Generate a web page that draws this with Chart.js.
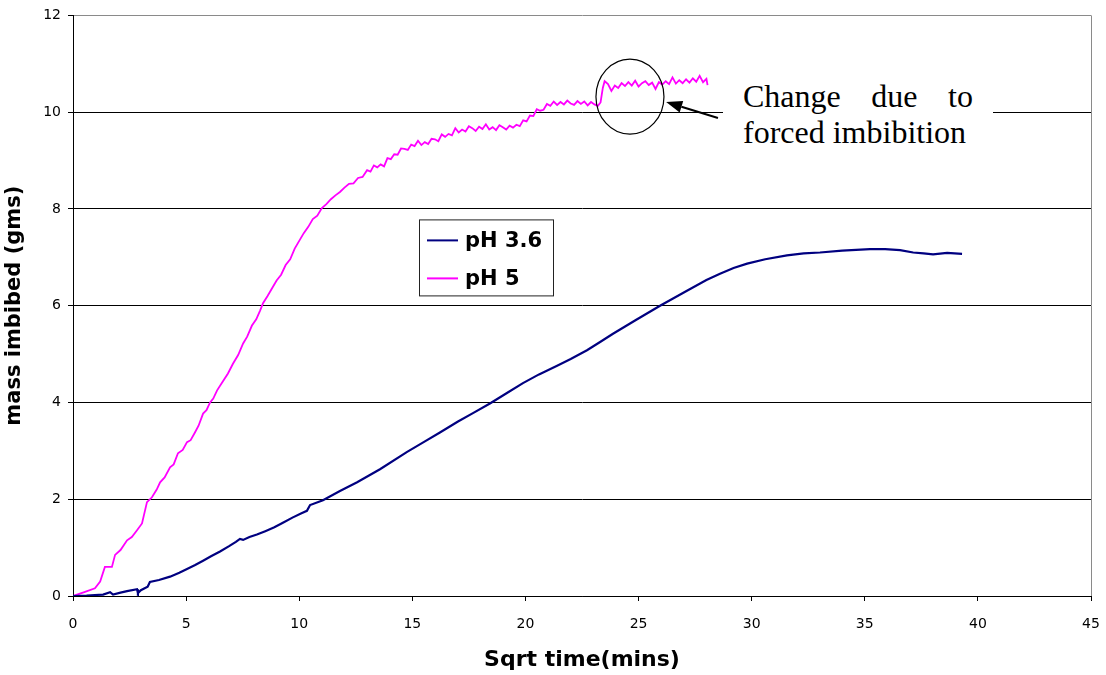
<!DOCTYPE html>
<html>
<head>
<meta charset="utf-8">
<script src="https://cdn.jsdelivr.net/npm/chart.js@4/dist/chart.umd.min.js"></script>
<style>
  html, body { margin: 0; padding: 0; background: #fff; }
  #wrap { position: relative; width: 1106px; height: 675px; }
  #note {
    position: absolute; left: 723px; top: 78px; width: 230px;
    padding: 0 20px; background: #fff;
    font-family: "Liberation Serif", "Times New Roman", serif;
    font-size: 32px; line-height: 36px; text-align: justify; color: #000;
  }
</style>
</head>
<body>
<div id="wrap">
  <canvas id="c" width="1106" height="675"></canvas>
  <div id="note">Change due to forced imbibition</div>
</div>
<script>
// ---- data ----
const seriesNames = ['pH 3.6', 'pH 5'];
const xTicks = [0, 5, 10, 15, 20, 25, 30, 35, 40, 45];
const yTicks = [0, 2, 4, 6, 8, 10, 12];
const xTitle = 'Sqrt time(mins)';
const yTitle = 'mass imbibed (gms)';

const ph36Points = [
  [0,0],[0.6,0.01],[1.33,0.03],[1.64,0.08],[1.77,0.03],[2.1,0.07],[2.39,0.1],[2.83,0.14],[2.87,0.06],
  [3.0,0.12],[3.3,0.19],[3.4,0.29],[3.8,0.33],[4.29,0.4],[4.7,0.48],[5.04,0.56],[5.4,0.64],[5.75,0.73],
  [6.1,0.82],[6.5,0.92],[6.9,1.03],[7.2,1.12],[7.38,1.18],[7.52,1.16],[7.8,1.22],[8.13,1.27],[8.5,1.34],
  [8.9,1.42],[9.3,1.52],[9.7,1.62],[10.1,1.71],[10.34,1.76],[10.48,1.88],[11.05,1.98],[11.8,2.17],
  [12.56,2.35],[13.57,2.62],[14.77,2.98],[15.5,3.18],[16.22,3.38],[17.0,3.6],[17.68,3.78],[18.43,3.98],
  [19.2,4.2],[19.89,4.4],[20.6,4.58],[21.4,4.76],[22.0,4.9],[22.72,5.08],[23.3,5.25],[23.87,5.42],
  [24.9,5.71],[25.95,6.0],[27.14,6.31],[28.0,6.53],[28.6,6.66],[29.2,6.78],[29.8,6.87],[30.6,6.96],
  [31.56,7.04],[32.3,7.08],[33.02,7.1],[34.0,7.14],[35.23,7.17],[35.9,7.17],[36.56,7.15],[37.14,7.1],
  [37.6,7.08],[38.02,7.06],[38.64,7.09],[39.3,7.07]
];

const ph5Points = [
  [0,0],[0.5,0.08],[0.97,0.16],[1.2,0.3],[1.41,0.6],[1.72,0.6],[1.86,0.85],[2.1,0.95],[2.39,1.15],
  [2.6,1.22],[2.83,1.36],[3.05,1.5],[3.27,1.94],[3.49,2.04],[3.7,2.2],[3.85,2.35],[4.05,2.45],[4.29,2.66],
  [4.45,2.72],[4.64,2.95],[4.85,3.02],[5.04,3.18],[5.2,3.22],[5.39,3.38],[5.55,3.52],[5.75,3.77],
  [5.9,3.84],[6.06,4.0],[6.2,4.08],[6.37,4.25],[6.6,4.42],[6.85,4.6],[7.07,4.8],[7.3,4.98],[7.52,5.22],
  [7.7,5.36],[7.91,5.59],[8.1,5.72],[8.27,5.9],
  [8.4,6.05],[8.6,6.20],[8.8,6.36],[9.0,6.52],[9.2,6.64],[9.4,6.84],[9.6,6.96],[9.8,7.18],[10.0,7.34],
  [10.2,7.50],[10.4,7.63],[10.6,7.79],[10.8,7.86],[11.0,8.02],[11.2,8.10],[11.4,8.20],[11.6,8.28],
  [11.8,8.35],[12.0,8.44],[12.2,8.52],[12.4,8.53],[12.6,8.64],[12.8,8.66],
  [13.0,8.80],[13.15,8.77],[13.3,8.90],[13.45,8.86],[13.6,8.92],[13.75,8.88],[13.9,9.05],[14.05,9.03],
  [14.2,9.13],[14.35,9.12],[14.5,9.25],[14.65,9.24],[14.8,9.22],[14.95,9.33],[15.1,9.30],[15.25,9.41],
  [15.4,9.32],[15.55,9.38],[15.7,9.34],[15.85,9.45],[16.0,9.44],[16.15,9.40],[16.3,9.54],[16.45,9.49],
  [16.6,9.55],[16.75,9.52],[16.9,9.67],[17.05,9.58],[17.2,9.64],[17.35,9.60],[17.5,9.71],[17.65,9.67],
  [17.8,9.61],[17.95,9.70],[18.1,9.65],[18.25,9.75],[18.4,9.64],[18.55,9.69],[18.7,9.63],[18.85,9.73],
  [19.0,9.69],[19.15,9.64],[19.3,9.72],[19.45,9.68],[19.6,9.74],[19.75,9.71],[19.9,9.83],[20.05,9.81],
  [20.2,9.93],[20.35,9.92],[20.5,10.06],[20.65,10.03],[20.8,10.05],[20.95,10.17],[21.1,10.13],
  [21.25,10.22],[21.4,10.15],[21.55,10.21],[21.7,10.16],[21.85,10.24],[22.0,10.18],[22.15,10.15],
  [22.3,10.23],[22.45,10.17],[22.6,10.22],[22.75,10.14],[22.9,10.21],[23.05,10.16],[23.2,10.13],
  [23.32,10.20],[23.42,10.50],[23.5,10.64],[23.65,10.58],[23.8,10.44],[23.95,10.55],[24.1,10.50],
  [24.25,10.60],[24.4,10.54],[24.55,10.62],[24.7,10.55],[24.85,10.65],[25.0,10.53],[25.15,10.60],
  [25.3,10.64],[25.45,10.56],[25.6,10.61],[25.75,10.48],[25.9,10.62],[26.05,10.57],[26.2,10.64],
  [26.35,10.58],[26.5,10.72],[26.65,10.59],[26.8,10.66],[26.95,10.60],[27.1,10.68],[27.25,10.61],
  [27.4,10.70],[27.55,10.63],[27.7,10.75],[27.85,10.62],[28.0,10.69],[28.05,10.56]
];

// annotation anchors in data units
const ringCenter = [24.62, 10.32];
const ringRadiiPx = [34, 37.5];
const arrowFrom = [28.51, 9.88];
const arrowTo = [26.22, 10.21];

const SANS = '"DejaVu Sans", "Liberation Sans", Arial, sans-serif';

const toXY = pts => pts.map(p => ({ x: p[0], y: p[1] }));

const frame = {
  id: 'frame',
  afterDatasetsDraw(chart) {
    const { ctx, chartArea: a } = chart;
    ctx.save();
    ctx.strokeStyle = '#8a8a8a';
    ctx.lineWidth = 1;
    ctx.beginPath();
    ctx.moveTo(Math.round(a.right) + 0.5, a.top);
    ctx.lineTo(Math.round(a.right) + 0.5, a.bottom);
    ctx.stroke();
    ctx.restore();
  }
};

const customLegend = {
  id: 'customLegend',
  afterDraw(chart) {
    const { ctx, chartArea: a } = chart;
    const left = a.left + 346, top = a.top + 204, w = 134, h = 76;
    ctx.save();
    ctx.fillStyle = '#fff';
    ctx.fillRect(left, top, w, h);
    ctx.strokeStyle = '#222';
    ctx.lineWidth = 1;
    ctx.strokeRect(left + 0.5, top + 0.5, w, h);
    ctx.font = 'bold 21px ' + SANS;
    ctx.textBaseline = 'middle';
    ctx.fillStyle = '#000';
    chart.data.datasets.forEach((ds, i) => {
      const cy = top + 21 + i * 38;
      ctx.strokeStyle = ds.borderColor;
      ctx.lineWidth = 2;
      ctx.beginPath();
      ctx.moveTo(left + 8, cy);
      ctx.lineTo(left + 39, cy);
      ctx.stroke();
      ctx.fillText(ds.label, left + 46, cy + 1);
    });
    ctx.restore();
  }
};

const annot = {
  id: 'annot',
  afterDraw(chart) {
    const { ctx } = chart;
    const xs = chart.scales.x, ys = chart.scales.y;
    const cx = xs.getPixelForValue(ringCenter[0]);
    const cy = ys.getPixelForValue(ringCenter[1]);
    ctx.save();
    ctx.strokeStyle = '#000';
    ctx.lineWidth = 1.2;
    ctx.beginPath();
    ctx.ellipse(cx, cy, ringRadiiPx[0], ringRadiiPx[1], 0, 0, Math.PI * 2);
    ctx.stroke();
    const x1 = xs.getPixelForValue(arrowFrom[0]), y1 = ys.getPixelForValue(arrowFrom[1]);
    const x2 = xs.getPixelForValue(arrowTo[0]), y2 = ys.getPixelForValue(arrowTo[1]);
    const ang = Math.atan2(y2 - y1, x2 - x1);
    const hl = 16, hw = 6;
    const bx = x2 - hl * Math.cos(ang), by = y2 - hl * Math.sin(ang);
    ctx.lineWidth = 2;
    ctx.beginPath();
    ctx.moveTo(x1, y1);
    ctx.lineTo(bx, by);
    ctx.stroke();
    ctx.fillStyle = '#000';
    ctx.beginPath();
    ctx.moveTo(x2, y2);
    ctx.lineTo(bx + hw * Math.sin(ang), by - hw * Math.cos(ang));
    ctx.lineTo(bx - hw * Math.sin(ang), by + hw * Math.cos(ang));
    ctx.closePath();
    ctx.fill();
    ctx.restore();
  }
};

new Chart(document.getElementById('c'), {
  type: 'scatter',
  data: {
    datasets: [
      { label: seriesNames[0], data: toXY(ph36Points), showLine: true, borderColor: '#000080',
        backgroundColor: '#000080', borderWidth: 2.2, pointRadius: 0, tension: 0 },
      { label: seriesNames[1], data: toXY(ph5Points), showLine: true, borderColor: '#ff00ff',
        backgroundColor: '#ff00ff', borderWidth: 1.8, pointRadius: 0, tension: 0 }
    ]
  },
  options: {
    responsive: false,
    animation: false,
    devicePixelRatio: 1,
    layout: { padding: { top: 14, right: 15, left: 0, bottom: 0 } },
    plugins: { legend: { display: false }, tooltip: { enabled: false } },
    scales: {
      x: {
        type: 'linear', min: 0, max: 45,
        afterBuildTicks: s => { s.ticks = xTicks.map(v => ({ value: v })); },
        ticks: { color: '#000', font: { family: SANS, size: 14 }, padding: 15, maxRotation: 0 },
        grid: { drawOnChartArea: false, drawTicks: true, tickLength: 5, color: '#000', tickColor: '#000' },
        border: { color: '#000', width: 1 },
        title: { display: true, text: xTitle, color: '#000', font: { family: SANS, size: 22, weight: 'bold' }, padding: { top: 0, bottom: 2 } },
        afterFit: s => { s.height = 79; s.paddingRight = 9; s.paddingLeft = 0; }
      },
      y: {
        type: 'linear', min: 0, max: 12,
        afterBuildTicks: s => { s.ticks = yTicks.map(v => ({ value: v })); },
        ticks: { color: '#000', font: { family: SANS, size: 14 }, padding: 7 },
        grid: {
          drawOnChartArea: true, drawTicks: true, tickLength: 5, tickColor: '#000',
          color: c => (c.tick && c.tick.value === 12) ? '#8a8a8a' : '#000'
        },
        border: { color: '#000', width: 1 },
        title: { display: true, text: yTitle, color: '#000', font: { family: SANS, size: 21, weight: 'bold' }, padding: { top: 2, bottom: 0 } },
        afterFit: s => { s.width = 73; }
      }
    }
  },
  plugins: [frame, customLegend, annot]
});
</script>
</body>
</html>
